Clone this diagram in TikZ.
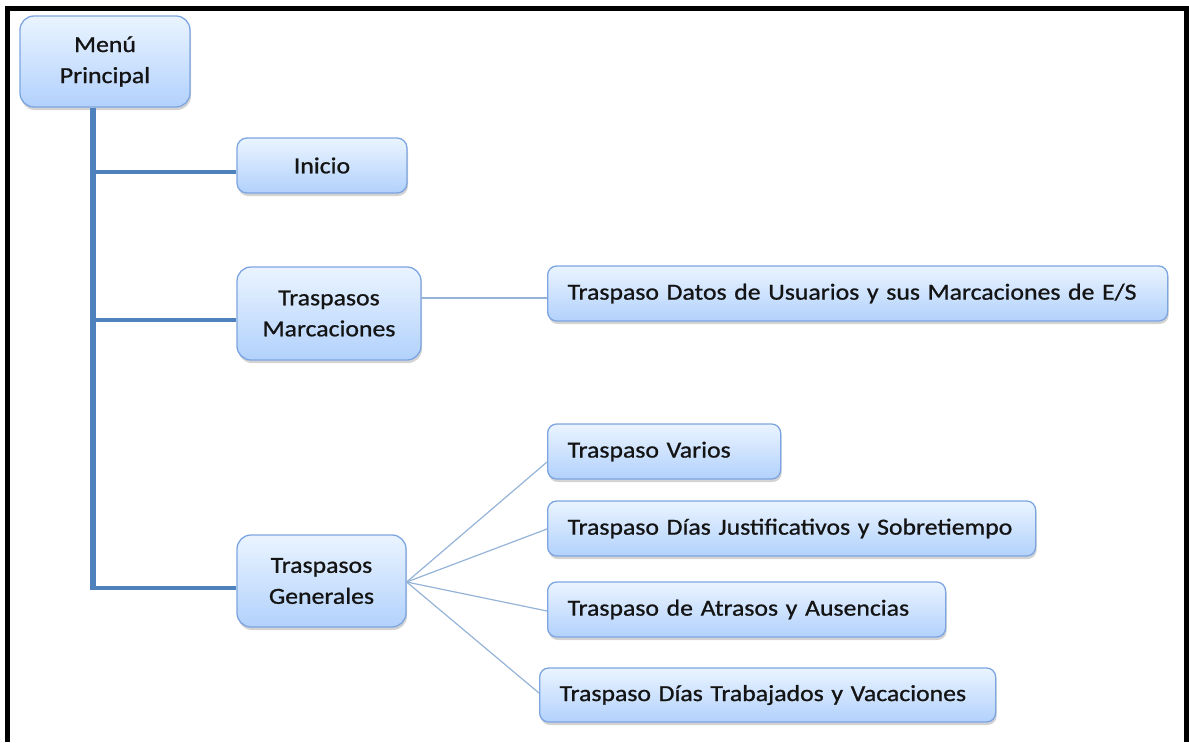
\documentclass[tikz,border=0pt]{standalone}
\usepackage{fontspec}
\setmainfont{Carlito}[FakeStretch=1.12,FakeBold=0.9]
\usetikzlibrary{shadows}
\definecolor{boxtop}{RGB}{234,244,255}
\definecolor{boxbot}{RGB}{178,209,252}
\definecolor{boxline}{RGB}{125,165,225}
\definecolor{trunk}{RGB}{79,129,189}
\definecolor{thin}{RGB}{149,179,215}
\definecolor{txt}{RGB}{20,20,20}
\tikzset{
  x=1pt, y=-1pt,
  menubox/.style={draw=boxline, line width=1.3pt, rounded corners=14pt,
    top color=boxtop, bottom color=boxbot, text=txt,
    font=\fontsize{23}{31}\selectfont, align=center, inner sep=0pt,
    drop shadow={opacity=0.35, shadow xshift=1pt, shadow yshift=-3pt}},
  leafbox/.style={draw=boxline, line width=1.3pt, rounded corners=9pt,
    top color=boxtop, bottom color=boxbot, text=txt,
    font=\fontsize{23}{31}\selectfont, inner sep=0pt, anchor=west,
    drop shadow={opacity=0.35, shadow xshift=1pt, shadow yshift=-3pt}},
  trunkline/.style={draw=trunk, line width=5.5pt},
  branchline/.style={draw=trunk, line width=3.8pt},
  fanline/.style={draw=thin, line width=1.2pt},
}
\begin{document}
\begin{tikzpicture}
\useasboundingbox (0,0) rectangle (1189,742);
% frame
\draw[black, line width=5pt] (7.5,742) -- (7.5,8.5) -- (1186.5,8.5) -- (1186.5,742);

% main nodes
\node[menubox, minimum width=170pt, minimum height=91pt] (menu) at (105,61.5) {Menú\\Principal};
\node[menubox, rounded corners=10pt, minimum width=170pt, minimum height=55pt] (inicio) at (322,165.5) {Inicio};
\node[menubox, minimum width=184pt, minimum height=93pt] (marc) at (329,313.5) {Traspasos\\Marcaciones};
\node[menubox, minimum width=169pt, minimum height=92pt] (gen) at (321.5,581) {Traspasos\\Generales};

% leaves
\node[leafbox, minimum width=620pt, minimum height=55pt, text width=580pt, inner xsep=20pt] (datos) at (547,293.5) {Traspaso Datos de Usuarios y sus Marcaciones de E/S};
\node[leafbox, minimum width=233pt, minimum height=55pt, text width=193pt, inner xsep=20pt] (varios) at (547,451.5) {Traspaso Varios};
\node[leafbox, minimum width=488pt, minimum height=55pt, text width=448pt, inner xsep=20pt] (just) at (547,528.5) {Traspaso Días Justificativos y Sobretiempo};
\node[leafbox, minimum width=398pt, minimum height=55pt, text width=358pt, inner xsep=20pt] (atr) at (547,609.5) {Traspaso de Atrasos y Ausencias};
\node[leafbox, minimum width=456pt, minimum height=54pt, text width=416pt, inner xsep=20pt] (trab) at (539,695) {Traspaso Días Trabajados y Vacaciones};

% trunk
\coordinate (t0) at (93,107);
\coordinate (t1) at (93,590);
\draw[trunkline] (menu.south -| t0) -- (t1);
\draw[branchline] (93,172) -- (inicio.west |- 0,172);
\draw[branchline] (93,320) -- (marc.west |- 0,320);
\draw[branchline] (90.5,588) -- (gen.west |- 0,588);

% thin lines
\draw[fanline] (marc.east |- 0,298) -- (datos.west |- 0,298);
\coordinate (g) at (gen.east |- 0,582);
\draw[fanline] (g) -- (varios.west |- 0,462);
\draw[fanline] (g) -- (just.west |- 0,529);
\draw[fanline] (g) -- (atr.west |- 0,611);
\draw[fanline] (g) -- (trab.west |- 0,693);
\end{tikzpicture}
\end{document}
